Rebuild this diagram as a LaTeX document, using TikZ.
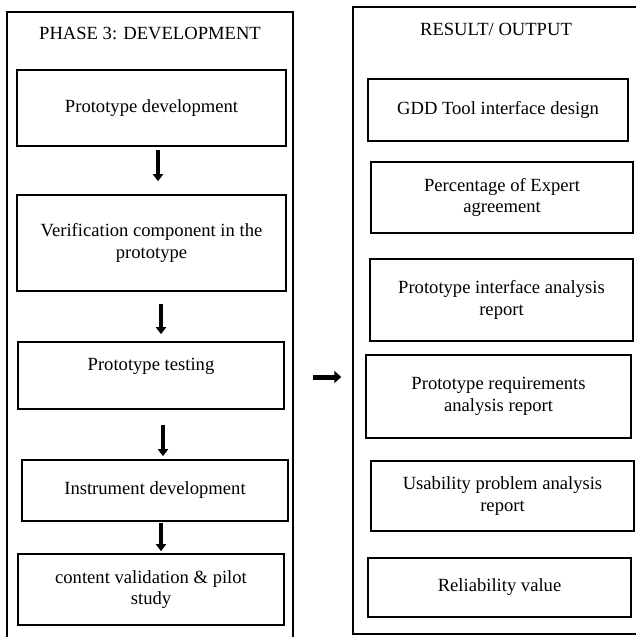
\documentclass[tikz,border=0pt]{standalone}
\usepackage{fontspec}
\setmainfont{Liberation Serif}
\usetikzlibrary{arrows.meta}
\begin{document}
\begin{tikzpicture}[x=1pt,y=-1pt,
  every node/.style={font=\fontsize{18.6}{21.8}\selectfont},
  frame/.style={draw, line width=1.4pt, rectangle, inner sep=0pt},
  stepbox/.style={draw, line width=1.6pt, rectangle, align=center, inner sep=0pt},
  title/.style={inner sep=0pt, anchor=center},
  varrow/.style={line width=3.6pt, -{Triangle[width=10pt,length=7pt]}},
  harrow/.style={line width=5pt, -{Triangle[width=12pt,length=7pt]}}]
\useasboundingbox (0,0) rectangle (635,637);

% outer frames
\node[frame, minimum width=286, minimum height=630] (Lout) at (150,327) {};
\node[frame, minimum width=286, minimum height=627] (Rout) at (496,320.5) {};

% headings
\node[title] (Lhead) at (150,33) {PHASE 3: DEVELOPMENT};
\node[title] (Rhead) at (496,29) {RESULT/ OUTPUT};

% development steps
\node[stepbox, minimum width=269, minimum height=76] (L1) at (151.5,108) {Prototype development};
\node[stepbox, minimum width=269, minimum height=96] (L2) at (151.5,243) {Verification component in the\\prototype};
\node[stepbox, minimum width=266, minimum height=67] (L3) at (151,375.5) {Prototype testing\\\mbox{}};
\node[stepbox, minimum width=266, minimum height=61] (L4) at (155,490.5) {Instrument development};
\node[stepbox, minimum width=266, minimum height=71] (L5) at (151,589.5) {content validation \& pilot\\study};

% outputs
\node[stepbox, minimum width=260, minimum height=62] (R1) at (498,110) {GDD Tool interface design};
\node[stepbox, minimum width=262, minimum height=71] (R2) at (502,197.5) {Percentage of Expert\\agreement};
\node[stepbox, minimum width=263, minimum height=82] (R3) at (501.5,300) {Prototype interface analysis\\report};
\node[stepbox, minimum width=265, minimum height=83] (R4) at (498.5,396.5) {Prototype requirements\\analysis report};
\node[stepbox, minimum width=263, minimum height=70] (R5) at (502.5,496) {Usability problem analysis\\report};
\node[stepbox, minimum width=263, minimum height=59] (R6) at (499.5,587.5) {Reliability value};

% flow between steps
\draw[varrow, shorten <=3pt, shorten >=13pt] ([xshift=6.5pt]L1.south) -- ([xshift=6.5pt]L2.north);
\draw[varrow, shorten <=12pt, shorten >=7pt] ([xshift=9.5pt]L2.south) -- ([xshift=10pt]L3.north);
\draw[varrow, shorten <=15pt, shorten >=3pt] ([xshift=12pt]L3.south) -- ([xshift=8pt]L4.north);
\draw[varrow, shorten <=1pt, shorten >=2pt] ([xshift=6pt]L4.south) -- ([xshift=10pt]L5.north);

% phase to result
\coordinate (mid) at (0,377);
\draw[harrow, shorten <=19pt, shorten >=11pt] (Lout.east |- mid) -- (Rout.west |- mid);
\end{tikzpicture}
\end{document}
